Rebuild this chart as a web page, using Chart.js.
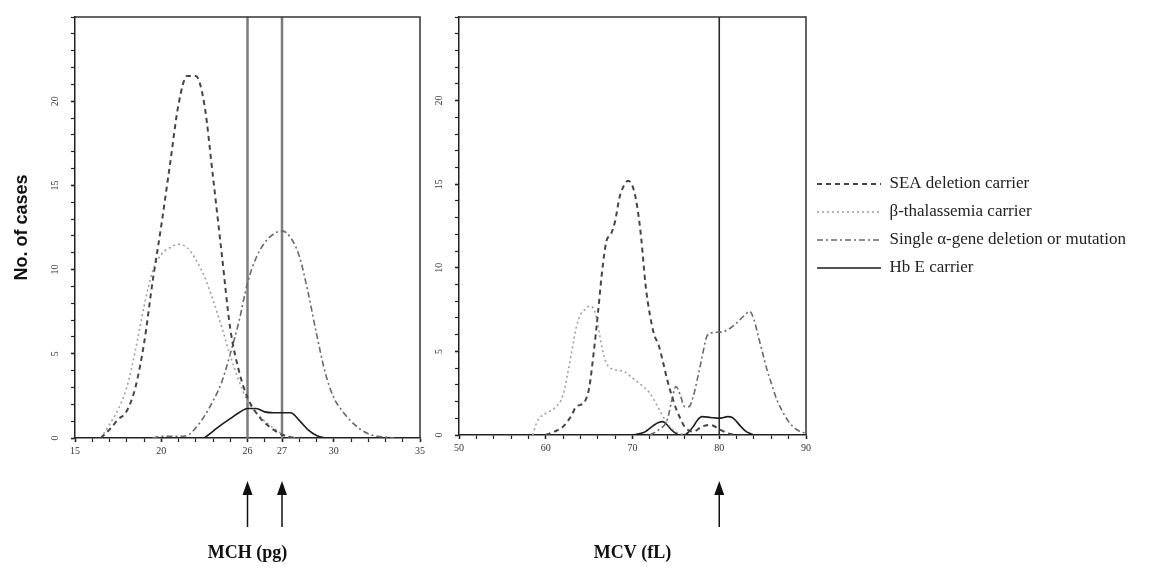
<!DOCTYPE html>
<html>
<head>
<meta charset="utf-8">
<script src="https://cdn.jsdelivr.net/npm/chart.js@4.4.1/dist/chart.umd.min.js"></script>
<style>
  body { margin: 0; background: #fff; }
  #wrap { position: relative; width: 1168px; height: 570px; overflow: hidden; }
  canvas { position: absolute; top: 0; }
  #mch { left: 0; }
  #mcv { left: 400px; }
</style>
</head>
<body>
<div id="wrap">
  <canvas id="mch" width="440" height="570"></canvas>
  <canvas id="mcv" width="768" height="570"></canvas>
</div>
<script>
const seriesNames = ['SEA deletion carrier', 'β-thalassemia carrier', 'Single α-gene deletion or mutation', 'Hb E carrier'];

// MCH panel (pg), one shared x grid
const mchX = [16, 16.5, 17, 17.5, 18, 18.5, 19, 19.5, 20, 20.5, 21, 21.5, 22, 22.5, 23, 23.5, 24, 24.5, 25, 25.5,
  26, 26.5, 27, 27.5, 28, 28.5, 29, 29.5, 30, 30.5, 31, 31.5, 32, 32.5, 33, 33.5, 34];
const mchSea = [null, 0, 0.5, 1.1, 1.6, 3.0, 5.6, 9.3, 12.6, 16.2, 19.8, 21.5, 21.5, 19.8, 15.5, 11.0, 6.5, 4.0, 2.4, 1.5,
  0.9, 0.5, 0.2, 0.05, 0, null, null, null, null, null, null, null, null, null, null, null, null];
const mchBeta = [null, 0, 0.8, 1.7, 3.0, 5.2, 7.8, 9.9, 10.9, 11.3, 11.5, 11.3, 10.6, 9.6, 8.2, 6.6, 4.9, 3.4, 2.2, 1.5,
  1.0, 0.6, 0.25, 0.05, 0, null, null, null, null, null, null, null, null, null, null, null, null];
const mchAlpha = [null, null, null, null, null, null, null, 0, 0.1, 0.1, 0.1, 0.15, 0.6, 1.3, 2.2, 3.3, 5.0, 6.9, 9.2, 10.7,
  11.6, 12.1, 12.3, 11.9, 10.8, 8.7, 6.2, 3.9, 2.4, 1.6, 1.0, 0.55, 0.25, 0.1, 0.05, 0, null];
const mchHbe = [null, null, null, null, null, null, null, null, null, null, null, null, null, 0, 0.4, 0.8, 1.15, 1.5, 1.75, 1.75,
  1.55, 1.5, 1.5, 1.5, 1.05, 0.5, 0.15, 0, null, null, null, null, null, null, null, null, null];

// MCV panel (fL), x and y per series
const mcvSeaX = [60, 61, 62, 63, 63.5, 64, 64.5, 65, 65.5, 66, 66.5, 67, 67.5, 68, 68.5, 69, 69.5, 70, 70.5, 71, 71.5,
  72, 72.5, 73, 73.5, 74, 74.5, 75, 75.5, 76, 77, 78, 79, 80, 81, 82];
const mcvSeaY = [0, 0.2, 0.5, 1.2, 1.7, 1.8, 2.0, 2.8, 4.8, 7.2, 9.8, 11.6, 12.0, 12.8, 14.2, 14.9, 15.2, 14.9, 13.8, 11.8, 9.0,
  7.2, 6.0, 5.4, 4.4, 3.3, 2.4, 1.6, 1.0, 0.5, 0.2, 0.5, 0.6, 0.35, 0.1, 0];
const mcvBetaX = [58.5, 59, 60, 61, 62, 62.5, 63, 63.5, 64, 64.5, 65, 65.5, 66, 66.5, 67, 68, 69, 70, 71, 72, 73, 74, 75, 76];
const mcvBetaY = [0, 0.8, 1.3, 1.6, 2.4, 3.6, 5.0, 6.4, 7.2, 7.5, 7.7, 7.6, 6.6, 5.2, 4.3, 3.9, 3.8, 3.4, 3.0, 2.5, 1.6, 0.7, 0.2, 0];
const mcvAlphaX = [72, 73, 74, 74.5, 75, 75.5, 76, 76.5, 77, 77.5, 78, 78.5, 79, 80, 81, 82, 83, 83.5, 84, 84.5, 85, 85.5,
  86, 86.5, 87, 88, 89, 90];
const mcvAlphaY = [0, 0.3, 0.9, 2.0, 2.9, 2.4, 1.7, 1.7, 2.3, 3.4, 4.6, 5.8, 6.1, 6.15, 6.3, 6.7, 7.2, 7.4, 6.9, 5.9, 4.9, 3.9,
  3.1, 2.3, 1.7, 0.8, 0.3, 0.1];
const mcvHbeX = [70, 71, 71.5, 72, 72.5, 73, 73.5, 74, 74.5, 75, 75.5, 76, 76.5, 77, 77.5, 78, 79, 80, 81, 81.5, 82, 82.5, 83, 83.5, 84];
const mcvHbeY = [0, 0.1, 0.2, 0.4, 0.6, 0.75, 0.8, 0.6, 0.3, 0.1, 0, 0, 0.2, 0.5, 0.9, 1.1, 1.05, 1.0, 1.1, 1.05, 0.8, 0.5, 0.25, 0.1, 0];

const mchCutoffs = [25, 27];
const mcvCutoffs = [80];
const mchTicks = [15, 20, 25, 27, 30, 35];
const mchTickLabels = ['15', '20', '26', '27', '30', '35'];
const mcvTicks = [50, 60, 70, 80, 90];
const countTicks = [0, 5, 10, 15, 20];

Chart.defaults.font.family = "'Liberation Serif', 'DejaVu Serif', serif";
Chart.defaults.color = '#222';

const lineStyles = [
  { color: '#454545', width: 2, dash: [5, 4] },
  { color: '#a0a0a0', width: 1.6, dash: [2, 3] },
  { color: '#6a6a6a', width: 1.6, dash: [6, 3, 2, 3] },
  { color: '#1c1c1c', width: 1.6, dash: [] }
];

function points(xs, ys) {
  return xs.map((x, i) => ({ x: x, y: ys[i] })).filter(p => p.y !== null);
}

function curveSets(list) {
  return list.map((pts, i) => ({
    label: seriesNames[i],
    data: pts,
    borderColor: lineStyles[i].color,
    backgroundColor: lineStyles[i].color,
    borderWidth: lineStyles[i].width,
    borderDash: lineStyles[i].dash,
    pointRadius: 0,
    cubicInterpolationMode: 'monotone',
    fill: false
  }));
}

function cutoffSets(values, color, width) {
  return values.map(v => ({
    label: 'cutoff',
    data: [{ x: v, y: 0 }, { x: v, y: 25 }],
    borderColor: color,
    borderWidth: width,
    pointRadius: 0
  }));
}

const framePlugin = {
  id: 'frame',
  afterDatasetsDraw(chart) {
    const { ctx, chartArea: a } = chart;
    ctx.save();
    ctx.strokeStyle = '#333';
    ctx.lineWidth = 1.5;
    ctx.beginPath();
    ctx.moveTo(a.left, a.top);
    ctx.lineTo(a.right, a.top);
    ctx.lineTo(a.right, a.bottom);
    ctx.stroke();
    ctx.restore();
  }
};

const arrowPlugin = {
  id: 'arrows',
  afterDraw(chart, args, opts) {
    const ctx = chart.ctx;
    const xs = chart.scales.x;
    ctx.save();
    ctx.fillStyle = '#111';
    ctx.strokeStyle = '#111';
    ctx.lineWidth = 1.5;
    (opts.values || []).forEach(v => {
      const px = xs.getPixelForValue(v);
      ctx.beginPath();
      ctx.moveTo(px, 527);
      ctx.lineTo(px, 493);
      ctx.stroke();
      ctx.beginPath();
      ctx.moveTo(px, 481);
      ctx.lineTo(px - 5, 495);
      ctx.lineTo(px + 5, 495);
      ctx.closePath();
      ctx.fill();
    });
    ctx.restore();
  }
};

// keeps the legend box at a set width so the plot edge lands where it should
const legendWidthPlugin = {
  id: 'legendWidth',
  beforeLayout(chart, args, opts) {
    const lg = chart.legend;
    if (lg && opts.width && !lg._fixedWidth) {
      const fit = lg.fit.bind(lg);
      lg.fit = function () { fit(); this.width = opts.width; };
      lg._fixedWidth = true;
    }
  }
};

const tickW = c => (c.tick && c.tick.label !== '' ? 1.6 : 1.2);

function xScale(min, max, step, title, height, labelFor) {
  return {
    type: 'linear', min: min, max: max,
    afterFit: s => { s.height = height; },
    border: { display: true, color: '#222', width: 1.5 },
    grid: { drawOnChartArea: false, tickLength: 4, tickColor: '#222', tickWidth: tickW },
    ticks: { stepSize: step, autoSkip: false, maxRotation: 0, padding: 3, font: { size: 10 }, color: '#333', callback: labelFor },
    title: { display: true, text: title, font: { size: 18, weight: 'bold' }, color: '#111', padding: { top: 0, bottom: 6 } }
  };
}

function yScale(width, withTitle) {
  return {
    type: 'linear', min: 0, max: 25,
    afterFit: s => { s.width = width; },
    border: { display: true, color: '#222', width: 1.5 },
    grid: { drawOnChartArea: false, tickLength: 4, tickColor: '#222', tickWidth: tickW },
    ticks: {
      stepSize: 1, autoSkip: false, minRotation: 90, maxRotation: 90, crossAlign: 'center', padding: 11,
      font: { size: 10 }, color: '#333',
      callback: v => (countTicks.indexOf(v) >= 0 ? String(v) : '')
    },
    title: {
      display: withTitle, text: 'No. of cases', color: '#111',
      font: { family: "'Liberation Sans', Arial, sans-serif", size: 18, weight: 'bold' },
      padding: { top: 11, bottom: 0 }
    }
  };
}

function legendItems(chart) {
  return Chart.defaults.plugins.legend.labels.generateLabels(chart)
    .filter(item => item.text !== 'cutoff')
    .map(item => {
      const ds = chart.data.datasets[item.datasetIndex];
      return Object.assign(item, {
        lineDash: ds.borderDash,
        strokeStyle: ds.borderColor,
        fillStyle: ds.borderColor,
        lineWidth: ds.borderWidth,
        pointStyle: 'line'
      });
    });
}

new Chart(document.getElementById('mch'), {
  type: 'line',
  data: {
    datasets: curveSets([
      points(mchX, mchSea), points(mchX, mchBeta), points(mchX, mchAlpha), points(mchX, mchHbe)
    ]).concat(cutoffSets(mchCutoffs, '#7c7c7c', 2.5))
  },
  options: {
    responsive: false,
    animation: false,
    layout: { padding: { top: 15, right: 20, left: 0, bottom: 0 } },
    scales: {
      x: xScale(15, 35, 1, 'MCH (pg)', 132, v => {
        const i = mchTicks.indexOf(v);
        return i >= 0 ? mchTickLabels[i] : '';
      }),
      y: yScale(75, true)
    },
    plugins: {
      legend: { display: false },
      tooltip: { enabled: false },
      arrows: { values: mchCutoffs }
    }
  },
  plugins: [framePlugin, arrowPlugin]
});

new Chart(document.getElementById('mcv'), {
  type: 'line',
  data: {
    datasets: curveSets([
      points(mcvSeaX, mcvSeaY), points(mcvBetaX, mcvBetaY), points(mcvAlphaX, mcvAlphaY), points(mcvHbeX, mcvHbeY)
    ]).concat(cutoffSets(mcvCutoffs, '#2a2a2a', 1.6))
  },
  options: {
    responsive: false,
    animation: false,
    layout: { padding: { top: 14, right: 0, left: 0, bottom: 0 } },
    scales: {
      x: xScale(50, 90, 2, 'MCV (fL)', 135, v => (mcvTicks.indexOf(v) >= 0 ? String(v) : '')),
      y: yScale(59, false)
    },
    plugins: {
      legend: {
        display: true,
        position: 'right',
        align: 'center',
        fullSize: false,
        labels: {
          usePointStyle: true,
          pointStyle: 'line',
          pointStyleWidth: 64,
          boxHeight: 17,
          padding: 11,
          color: '#222',
          font: { size: 17 },
          generateLabels: legendItems
        }
      },
      legendWidth: { width: 362 },
      tooltip: { enabled: false },
      arrows: { values: mcvCutoffs }
    }
  },
  plugins: [framePlugin, arrowPlugin, legendWidthPlugin]
});
</script>
</body>
</html>
